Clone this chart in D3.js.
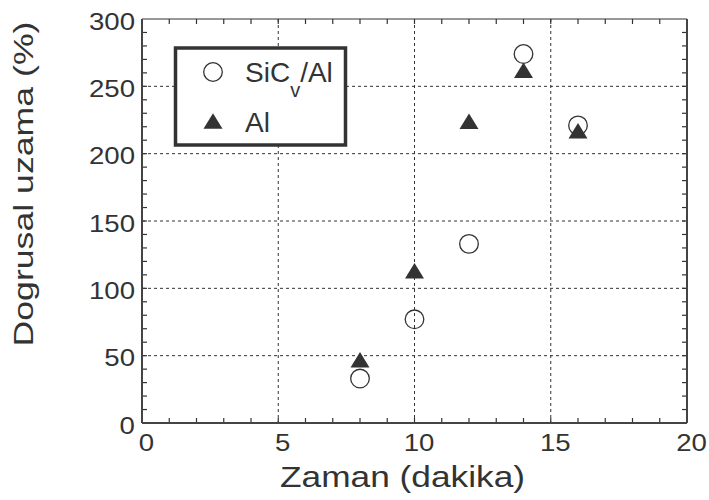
<!DOCTYPE html>
<html>
<head>
<meta charset="utf-8">
<script src="https://cdn.jsdelivr.net/npm/d3@7"></script>
<style>
  body { margin: 0; background: #fff; }
  svg { display: block; font-family: Arial, "Liberation Sans", sans-serif; }
</style>
</head>
<body>
<div id="chart"></div>
<script>
'use strict';

// data
var times = [8, 10, 12, 14, 16];
var sicAl = [33, 77, 133, 274, 221];
var al = [47, 113, 224, 262, 217];

var xTicks = [0, 5, 10, 15, 20];
var yTicks = [0, 50, 100, 150, 200, 250, 300];

var width = 709, height = 500;
var plot = { left: 142, top: 19, right: 687, bottom: 423 };
var ink = '#333';
var stretch = 1.15; // the axis lettering is wider than Arial

var svg = d3.select('#chart').append('svg')
    .attr('width', width)
    .attr('height', height);

var x = d3.scaleLinear().domain([0, 20]).range([plot.left, plot.right]);
var y = d3.scaleLinear().domain([0, 300]).range([plot.bottom, plot.top]);

// dotted grid at the major ticks
var grid = svg.append('g')
    .attr('stroke', ink)
    .attr('stroke-width', 1)
    .attr('stroke-dasharray', '3,3');

grid.selectAll('line.gx')
    .data(xTicks.slice(1, -1))
    .enter().append('line')
    .attr('x1', function(d) { return x(d); })
    .attr('x2', function(d) { return x(d); })
    .attr('y1', plot.top)
    .attr('y2', plot.bottom);

grid.selectAll('line.gy')
    .data(yTicks.slice(1, -1))
    .enter().append('line')
    .attr('x1', plot.left)
    .attr('x2', plot.right)
    .attr('y1', function(d) { return y(d); })
    .attr('y2', function(d) { return y(d); });

// inward minor ticks on all four sides
var tickLen = 5;
var ticks = svg.append('g').attr('stroke', ink).attr('stroke-width', 1.2);

ticks.selectAll('line.tb')
    .data(d3.range(1, 20))
    .enter().append('line')
    .attr('x1', function(d) { return x(d); })
    .attr('x2', function(d) { return x(d); })
    .attr('y1', plot.bottom)
    .attr('y2', plot.bottom - tickLen);

ticks.selectAll('line.tt')
    .data(d3.range(1, 20))
    .enter().append('line')
    .attr('x1', function(d) { return x(d); })
    .attr('x2', function(d) { return x(d); })
    .attr('y1', plot.top)
    .attr('y2', plot.top + tickLen);

ticks.selectAll('line.tl')
    .data(d3.range(10, 300, 10))
    .enter().append('line')
    .attr('x1', plot.left)
    .attr('x2', plot.left + tickLen)
    .attr('y1', function(d) { return y(d); })
    .attr('y2', function(d) { return y(d); });

ticks.selectAll('line.tr')
    .data(d3.range(10, 300, 10))
    .enter().append('line')
    .attr('x1', plot.right)
    .attr('x2', plot.right - tickLen)
    .attr('y1', function(d) { return y(d); })
    .attr('y2', function(d) { return y(d); });

// frame
svg.append('line')
    .attr('x1', plot.left).attr('x2', plot.right)
    .attr('y1', plot.top).attr('y2', plot.top)
    .attr('stroke', ink).attr('stroke-width', 1.2);
svg.append('line')
    .attr('x1', plot.left).attr('x2', plot.right)
    .attr('y1', plot.bottom).attr('y2', plot.bottom)
    .attr('stroke', '#444').attr('stroke-width', 2);
svg.append('line')
    .attr('x1', plot.left).attr('x2', plot.left)
    .attr('y1', plot.top).attr('y2', plot.bottom)
    .attr('stroke', '#444').attr('stroke-width', 2);
svg.append('line')
    .attr('x1', plot.right).attr('x2', plot.right)
    .attr('y1', plot.top).attr('y2', plot.bottom)
    .attr('stroke', '#444').attr('stroke-width', 2);

function widen(sel) {
    sel.each(function() {
        var len = this.getComputedTextLength();
        d3.select(this)
            .attr('textLength', len * stretch)
            .attr('lengthAdjust', 'spacingAndGlyphs');
    });
}

// tick labels
svg.append('g').selectAll('text')
    .data(xTicks)
    .enter().append('text')
    .attr('x', function(d) { return x(d) + 4.5; })
    .attr('y', 451)
    .attr('text-anchor', 'middle')
    .attr('font-size', 24)
    .attr('fill', ink)
    .text(function(d) { return d; })
    .call(widen);

svg.append('g').selectAll('text')
    .data(yTicks)
    .enter().append('text')
    .attr('x', 135)
    .attr('y', function(d) { return y(d) + 10.5; })
    .attr('text-anchor', 'end')
    .attr('font-size', 24)
    .attr('fill', ink)
    .text(function(d) { return d; })
    .call(widen);

// axis titles
svg.append('text')
    .attr('x', 402.5)
    .attr('y', 486.5)
    .attr('text-anchor', 'middle')
    .attr('font-size', 30)
    .attr('fill', ink)
    .attr('textLength', 245)
    .attr('lengthAdjust', 'spacingAndGlyphs')
    .text('Zaman (dakika)');

svg.append('text')
    .attr('transform', 'translate(32.5,184) rotate(-90)')
    .attr('text-anchor', 'middle')
    .attr('font-size', 27.5)
    .attr('fill', ink)
    .attr('textLength', 325)
    .attr('lengthAdjust', 'spacingAndGlyphs')
    .text('Dogrusal uzama (%)');

// markers: triangle centred on its bounding box, 19 wide and 15.5 tall
var tri = d3.symbol().type({
    draw: function(context) {
        context.moveTo(0, -7.75);
        context.lineTo(9.5, 7.75);
        context.lineTo(-9.5, 7.75);
        context.closePath();
    }
});

svg.append('g').selectAll('circle')
    .data(times)
    .enter().append('circle')
    .attr('cx', function(d) { return x(d); })
    .attr('cy', function(d, i) { return y(sicAl[i]); })
    .attr('r', 9.3)
    .attr('fill', 'none')
    .attr('stroke', ink)
    .attr('stroke-width', 1.3);

svg.append('g').selectAll('path')
    .data(times)
    .enter().append('path')
    .attr('d', tri)
    .attr('transform', function(d, i) {
        return 'translate(' + x(d) + ',' + y(al[i]) + ')';
    })
    .attr('fill', ink);

// legend
var legend = svg.append('g');
legend.append('rect')
    .attr('x', 175.5)
    .attr('y', 48)
    .attr('width', 170)
    .attr('height', 97)
    .attr('fill', '#fff')
    .attr('stroke', ink)
    .attr('stroke-width', 3.5);

legend.append('circle')
    .attr('cx', 213)
    .attr('cy', 72)
    .attr('r', 9.3)
    .attr('fill', 'none')
    .attr('stroke', ink)
    .attr('stroke-width', 1.3);

legend.append('path')
    .attr('d', tri)
    .attr('transform', 'translate(213,121)')
    .attr('fill', ink);

var label = legend.append('text')
    .attr('x', 245)
    .attr('y', 82)
    .attr('font-size', 28)
    .attr('fill', ink);
label.append('tspan').text('SiC');
label.append('tspan').attr('font-size', 20).attr('dy', 15).text('v');
label.append('tspan').attr('dy', -15).text('/Al');

legend.append('text')
    .attr('x', 245)
    .attr('y', 131.5)
    .attr('font-size', 28)
    .attr('fill', ink)
    .text('Al');
</script>
</body>
</html>
